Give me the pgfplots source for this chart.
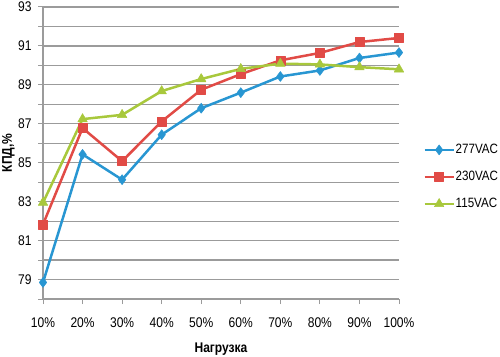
\documentclass[border=0pt]{standalone}
\usepackage{fontspec}
\setmainfont[FakeStretch=0.86]{Liberation Sans}
\usepackage{pgfplots}
\pgfplotsset{compat=1.18}
\definecolor{cblue}{RGB}{40,150,210}
\definecolor{cred}{RGB}{225,75,70}
\definecolor{cgreen}{RGB}{168,200,60}
\definecolor{cgrid}{RGB}{155,155,155}
\begin{document}
\begin{tikzpicture}[x=1pt,y=1pt]
\useasboundingbox (0,0) rectangle (500,356);
\begin{axis}[
  at={(43pt,57pt)}, anchor=south west,
  scale only axis, width=356pt, height=292pt,
  xmin=0, xmax=9, ymin=78, ymax=93,
  xtick={0,...,9},
  xticklabels={10\%,20\%,30\%,40\%,50\%,60\%,70\%,80\%,90\%,100\%},
  ytick={79,81,...,93}, minor ytick={78,80,...,92},
  ymajorgrids, yminorgrids,
  grid style={cgrid, line width=1.2pt},
  minor grid style={cgrid, line width=1.2pt},
  axis x line=bottom, axis y line=left,
  axis line style={cgrid, line width=1.2pt, -},
  tick style={cgrid, line width=1pt},
  tick align=outside, major tick length=5pt, minor tick length=5pt,
  /pgf/number format/assume math mode=true,
  ticklabel style={font=\fontsize{14}{16}\selectfont, text=black},
  xticklabel style={yshift=-10pt},
  yticklabel style={xshift=-3pt},
  xlabel={\bfseries Нагрузка},
  ylabel={\bfseries КПД,\%},
  label style={font=\fontsize{14}{16}\selectfont},
  xlabel style={at={(axis description cs:0.5,0)}, anchor=base, yshift=-53pt},
  ylabel style={at={(axis description cs:0,0.5)}, anchor=base, yshift=31pt},
  legend style={at={(axis description cs:1.068,0.418)}, anchor=west, draw=none, fill=none,
    font=\fontsize{13.5}{15}\selectfont, row sep=14.5pt, inner sep=0pt,
    nodes={inner sep=0.8pt}},
  legend cell align=left,
  legend image code/.code={\draw[mark repeat=2,mark phase=2,#1] plot coordinates {(0pt,0pt) (14.5pt,0pt) (29pt,0pt)};},
  every axis plot/.append style={line width=2.5pt, line join=round},
]
\addplot[cblue, mark=diamond*, mark size=5pt, mark options={line width=0.5pt}] coordinates {
(0,78.85) (1,85.43) (2,84.13) (3,86.44) (4,87.8) (5,88.6) (6,89.43) (7,89.74) (8,90.38) (9,90.66)};
\addlegendentry{277VAC}
\addplot[cred, mark=square*, mark size=4.5pt, mark options={line width=0.5pt}] coordinates {
(0,81.83) (1,86.78) (2,85.08) (3,87.12) (4,88.75) (5,89.55) (6,90.26) (7,90.64) (8,91.2) (9,91.41)};
\addlegendentry{230VAC}
\addplot[cgreen, mark=triangle*, mark size=5.5pt, mark options={line width=0.5pt}] coordinates {
(0,82.95) (1,87.24) (2,87.46) (3,88.68) (4,89.3) (5,89.82) (6,90.09) (7,90.05) (8,89.91) (9,89.8)};
\addlegendentry{115VAC}
\end{axis}
\end{tikzpicture}
\end{document}
